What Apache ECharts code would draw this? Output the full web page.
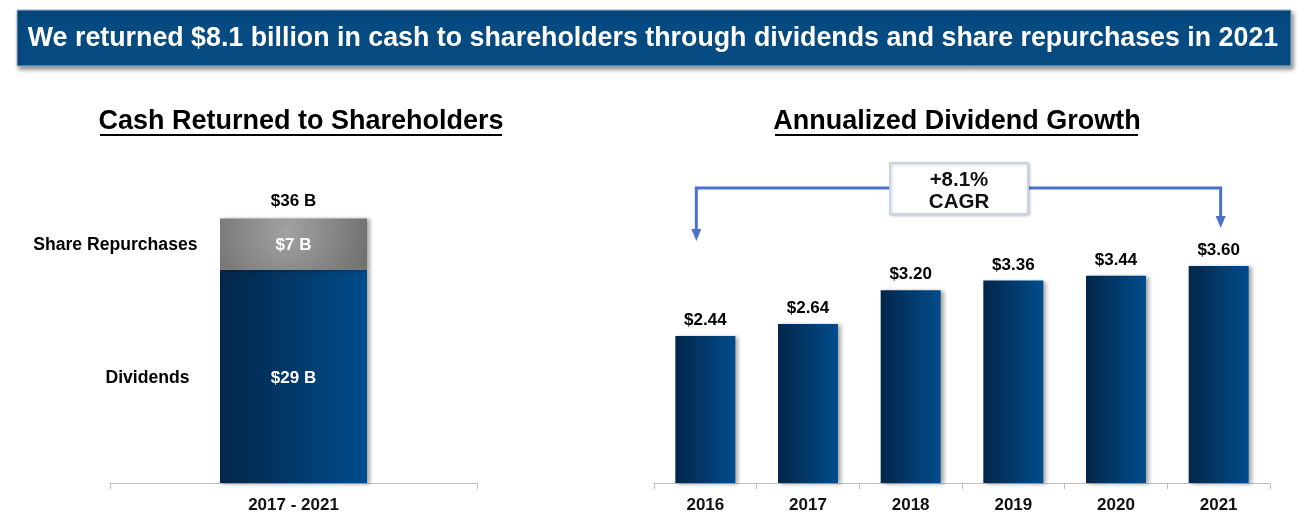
<!DOCTYPE html>
<html><head><meta charset="utf-8">
<script src="https://cdn.jsdelivr.net/npm/echarts@6/dist/echarts.min.js"></script>
<style>html,body{margin:0;padding:0;background:#fff}#c{width:1311px;height:524px}</style>
</head><body><div id="c"></div>
<script>
const headline = 'We returned $8.1 billion in cash to shareholders through dividends and share repurchases in 2021';
const leftTitle = 'Cash Returned to Shareholders';
const rightTitle = 'Annualized Dividend Growth';
const periodCategories = ['2017 - 2021'];
const dividendsB = [29];
const repurchasesB = [7];
const totalB = [36];
const segmentNames = ['Dividends', 'Share Repurchases'];
const years = ['2016', '2017', '2018', '2019', '2020', '2021'];
const dividendPerShare = [2.44, 2.64, 3.20, 3.36, 3.44, 3.60];
const cagrText = ['+8.1%', 'CAGR'];

const FONT = '"Liberation Sans", Arial, sans-serif';
const chart = echarts.init(document.getElementById('c'), null, {renderer: 'canvas'});

const blueGrad = () => new echarts.graphic.LinearGradient(0, 0, 1, 0, [
  {offset: 0, color: '#03264a'}, {offset: 1, color: '#014d8c'}]);
const greyGrad = new echarts.graphic.RadialGradient(0.45, 0.25, 1.6, [
  {offset: 0, color: '#a2a2a2'}, {offset: 0.5, color: '#8a8a8a'}, {offset: 1, color: '#727272'}]);
const shadow = {shadowBlur: 4, shadowColor: 'rgba(0,0,0,0.35)', shadowOffsetX: 3, shadowOffsetY: 1};

const axisCommon = {
  axisLine: {lineStyle: {color: '#bfbfbf', width: 1}},
  axisTick: {show: true, length: 6, lineStyle: {color: '#bfbfbf'}},
  axisLabel: {color: '#111', fontFamily: FONT, fontWeight: 'bold', fontSize: 17, margin: 14},
  splitLine: {show: false}
};
const lbl = {fontFamily: FONT, fontWeight: 'bold', fontSize: 17};

chart.setOption({
  animation: false,
  backgroundColor: '#fff',
  grid: [
    {left: 110, width: 367, top: 189, bottom: 41},
    {left: 654, width: 616, top: 242, bottom: 41}
  ],
  xAxis: [
    Object.assign({type: 'category', gridIndex: 0, data: periodCategories}, axisCommon),
    Object.assign({type: 'category', gridIndex: 1, data: years}, axisCommon)
  ],
  yAxis: [
    {type: 'value', gridIndex: 0, min: 0, max: 40, show: false},
    {type: 'value', gridIndex: 1, min: 0, max: 4, show: false}
  ],
  series: [
    {
      type: 'bar', name: segmentNames[0], xAxisIndex: 0, yAxisIndex: 0, stack: 'cash',
      barWidth: 147, data: dividendsB,
      itemStyle: Object.assign({color: blueGrad()}, shadow),
      label: Object.assign({show: true, position: 'inside', color: '#fff', offset: [0, 2],
        formatter: p => '$' + p.value + ' B'}, lbl)
    },
    {
      type: 'bar', name: segmentNames[1], xAxisIndex: 0, yAxisIndex: 0, stack: 'cash',
      barWidth: 147, data: repurchasesB,
      itemStyle: Object.assign({color: greyGrad}, shadow),
      label: Object.assign({show: true, position: 'inside', color: '#fff', offset: [0, 1],
        formatter: p => '$' + p.value + ' B'}, lbl)
    },
    {
      type: 'scatter', xAxisIndex: 0, yAxisIndex: 0, symbolSize: 0, silent: true,
      itemStyle: {opacity: 1},
      data: totalB.map((v, i) => [i, v]),
      label: Object.assign({show: true, position: 'top', distance: 9, color: '#000',
        formatter: p => '$' + p.value[1] + ' B'}, lbl)
    },
    {
      type: 'scatter', xAxisIndex: 0, yAxisIndex: 0, symbolSize: 0, silent: true,
      itemStyle: {opacity: 1},
      data: [
        {value: [0, dividendsB[0] / 2], label: {distance: 104, offset: [0, 2], formatter: segmentNames[0]}},
        {value: [0, dividendsB[0] + repurchasesB[0] / 2], label: {distance: 96, offset: [0, 1], formatter: segmentNames[1]}}
      ],
      label: {show: true, position: 'left', color: '#000', fontFamily: FONT, fontWeight: 'bold', fontSize: 17.6}
    },
    {
      type: 'bar', xAxisIndex: 1, yAxisIndex: 1, barWidth: 60, data: dividendPerShare,
      itemStyle: Object.assign({color: blueGrad()}, shadow),
      label: Object.assign({show: true, position: 'top', distance: 7, color: '#000',
        formatter: p => '$' + p.value.toFixed(2)}, lbl)
    }
  ]
});

const xL = chart.convertToPixel({xAxisIndex: 1}, years[0]) - 9;
const xR = chart.convertToPixel({xAxisIndex: 1}, years[years.length - 1]) + 2;
const lineY = 188, blue = '#4a72c8';

chart.setOption({
  graphic: [
    {type: 'rect', shape: {x: 17, y: 10, width: 1274, height: 56},
      style: {fill: '#054a80', stroke: '#9fb3cf', lineWidth: 1, shadowBlur: 4, shadowColor: 'rgba(0,0,0,0.45)', shadowOffsetX: 2, shadowOffsetY: 3}},
    {type: 'text', x: 653, y: 39, style: {text: headline, fill: '#fff', font: 'bold 26.8px ' + FONT, align: 'center', verticalAlign: 'middle'}},
    {type: 'text', x: 301, y: 122, style: {text: leftTitle, fill: '#000', font: 'bold 27px ' + FONT, align: 'center', verticalAlign: 'middle'}},
    {type: 'rect', shape: {x: 100, y: 134, width: 402, height: 2}, style: {fill: '#000'}},
    {type: 'text', x: 957, y: 122, style: {text: rightTitle, fill: '#000', font: 'bold 27px ' + FONT, align: 'center', verticalAlign: 'middle'}},
    {type: 'rect', shape: {x: 775, y: 134, width: 363, height: 2}, style: {fill: '#000'}},
    {type: 'polyline', shape: {points: [[xL, 230], [xL, lineY], [xR, lineY], [xR, 218]]},
      style: {stroke: blue, lineWidth: 3, fill: null}},
    {type: 'polygon', shape: {points: [[xL - 5, 229], [xL + 5, 229], [xL, 241]]}, style: {fill: blue}},
    {type: 'polygon', shape: {points: [[xR - 5, 216], [xR + 5, 216], [xR, 228]]}, style: {fill: blue}},
    {type: 'rect', shape: {x: 890, y: 163, width: 138, height: 51},
      style: {fill: '#fff', stroke: '#c8d3e8', lineWidth: 2, shadowBlur: 3, shadowColor: 'rgba(0,0,0,0.2)', shadowOffsetX: 1, shadowOffsetY: 1}},
    {type: 'text', x: 959, y: 191, style: {text: cagrText.join('\n'), fill: '#111', font: 'bold 20.5px ' + FONT, lineHeight: 22, align: 'center', verticalAlign: 'middle'}}
  ]
});
</script></body></html>
